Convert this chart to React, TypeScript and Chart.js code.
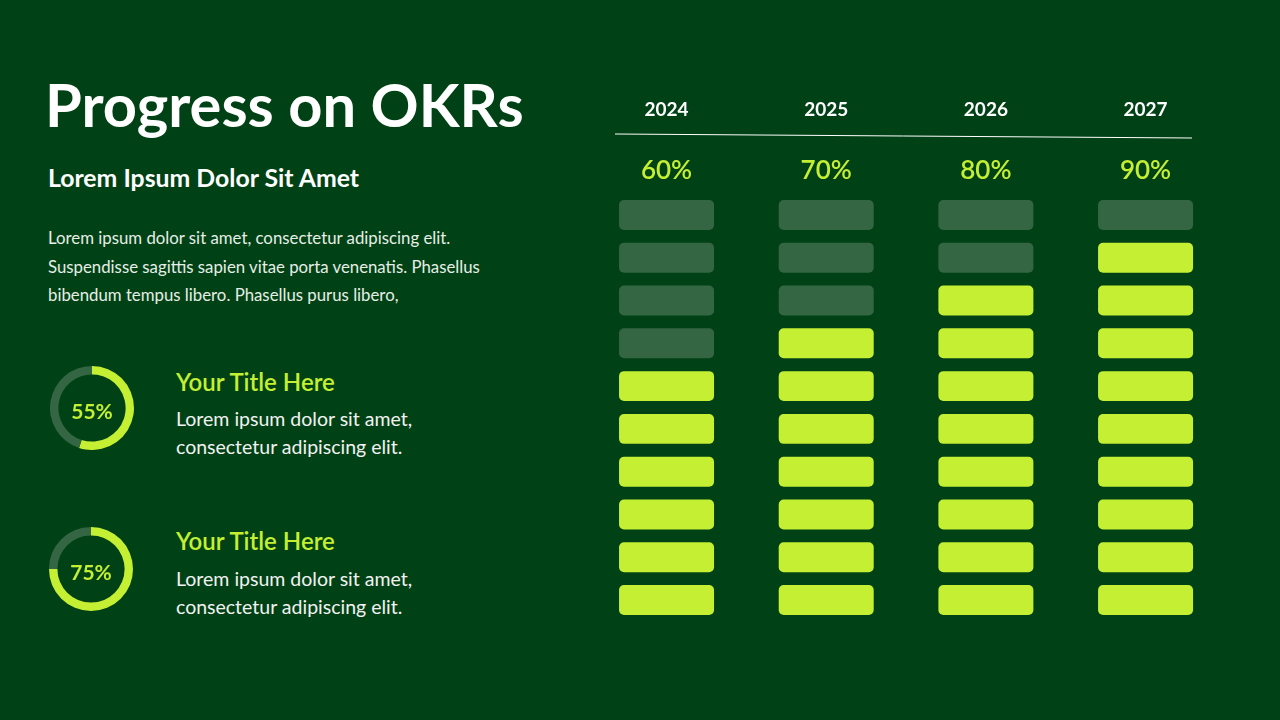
import React, { useEffect, useRef } from 'react';
import { Chart, registerables } from 'chart.js';
Chart.register(...registerables);

const years = ['2024', '2025', '2026', '2027'];
const progressPct = [60, 70, 80, 90];
const blocksPerColumn = 10;
const donutValues = [55, 75];
const itemTitles = ['Your Title Here', 'Your Title Here'];
const itemTexts = [
  ['Lorem ipsum dolor sit amet,', 'consectetur adipiscing elit.'],
  ['Lorem ipsum dolor sit amet,', 'consectetur adipiscing elit.'],
];

const BG = '#004215';
const LIME = '#c4ef33';
const DIM = '#346644';
const FONT = 'Lato, "Noto Sans", sans-serif';

function GridChart() {
  const ref = useRef<HTMLCanvasElement>(null);
  useEffect(() => {
    const rows = Array.from({ length: blocksPerColumn }, (_, r) => r);
    const headerPlugin = {
      id: 'header',
      afterDraw(chart: any) {
        const ctx = chart.ctx;
        const x = chart.scales.x;
        ctx.save();
        ctx.textAlign = 'center';
        ctx.textBaseline = 'middle';
        years.forEach((y, i) => {
          const px = x.getPixelForValue(i);
          ctx.fillStyle = '#ffffff';
          ctx.font = `bold 19px ${FONT}`;
          ctx.fillText(y, px, 50);
          ctx.fillStyle = LIME;
          ctx.font = `600 26px ${FONT}`;
          ctx.fillText(progressPct[i] + '%', px, 111);
        });
        ctx.strokeStyle = '#ffffff';
        ctx.lineWidth = 1;
        ctx.beginPath();
        ctx.moveTo(55, 74);
        ctx.lineTo(632, 78);
        ctx.stroke();
        ctx.restore();
      },
    };
    const chart = new Chart(ref.current!, {
      type: 'bar',
      data: {
        labels: years,
        datasets: rows.map((r) => ({
          label: 'block ' + (r + 1),
          data: years.map(() => [r + 0.15, r + 0.85]) as any,
          backgroundColor: progressPct.map((p) => (r < p / 10 ? LIME : DIM)),
          borderRadius: 5,
          borderSkipped: false,
          borderWidth: 0,
          categoryPercentage: 1,
          barPercentage: 0.595,
        })),
      },
      options: {
        animation: false,
        responsive: false,
        maintainAspectRatio: false,
        layout: { padding: { left: 26.7, right: 34.6, top: 133.6, bottom: 38.6 } },
        plugins: { legend: { display: false }, tooltip: { enabled: false } },
        scales: {
          x: { display: false, stacked: true },
          y: { display: false, stacked: false, min: 0, max: blocksPerColumn },
        },
      },
      plugins: [headerPlugin],
    });
    return () => chart.destroy();
  }, []);
  return (
    <canvas
      ref={ref}
      width={700}
      height={600}
      style={{ position: 'absolute', left: 560, top: 60, width: 700, height: 600 }}
    />
  );
}

function Donut({ value, left, top }: { value: number; left: number; top: number }) {
  const ref = useRef<HTMLCanvasElement>(null);
  useEffect(() => {
    const centerText = {
      id: 'centerText',
      afterDraw(chart: any) {
        const { ctx, chartArea } = chart;
        ctx.save();
        ctx.fillStyle = LIME;
        ctx.font = `bold 21px ${FONT}`;
        ctx.textAlign = 'center';
        ctx.textBaseline = 'middle';
        ctx.fillText(value + '%', (chartArea.left + chartArea.right) / 2, (chartArea.top + chartArea.bottom) / 2 + 4);
        ctx.restore();
      },
    };
    const chart = new Chart(ref.current!, {
      type: 'doughnut',
      data: {
        labels: ['Done', 'Remaining'],
        datasets: [
          {
            data: [value, 100 - value],
            backgroundColor: [LIME, DIM],
            borderWidth: 0,
          },
        ],
      },
      options: {
        animation: false,
        responsive: false,
        cutout: '80%',
        plugins: { legend: { display: false }, tooltip: { enabled: false } },
      },
      plugins: [centerText],
    });
    return () => chart.destroy();
  }, [value]);
  return (
    <canvas
      ref={ref}
      width={84}
      height={84}
      style={{ position: 'absolute', left, top, width: 84, height: 84 }}
    />
  );
}

export default function App() {
  useEffect(() => {
    document.body.style.margin = '0';
    document.body.style.background = BG;
  }, []);
  const abs = (l: number, t: number): React.CSSProperties => ({ position: 'absolute', left: l, top: t, whiteSpace: 'nowrap' });
  const donutPos = [
    { left: 50, top: 366, titleTop: 366, textTop: 405 },
    { left: 49, top: 527, titleTop: 525, textTop: 565 },
  ];
  return (
    <div style={{ position: 'relative', width: 1280, height: 720, background: BG, overflow: 'hidden', fontFamily: FONT, color: '#fff' }}>
      <div style={{ ...abs(45, 69), fontSize: 59.6, fontWeight: 700, lineHeight: '70px' }}>Progress on OKRs</div>
      <div style={{ ...abs(48, 163), fontSize: 24.8, fontWeight: 700, lineHeight: '30px' }}>Lorem Ipsum Dolor Sit Amet</div>
      <div style={{ ...abs(48, 224), fontSize: 16.8, lineHeight: '28.7px', color: '#e6eee6' }}>
        Lorem ipsum dolor sit amet, consectetur adipiscing elit.
        <br />
        Suspendisse sagittis sapien vitae porta venenatis. Phasellus
        <br />
        bibendum tempus libero. Phasellus purus libero,
      </div>
      {donutValues.map((v, i) => (
        <React.Fragment key={i}>
          <Donut value={v} left={donutPos[i].left} top={donutPos[i].top} />
          <div style={{ ...abs(176, donutPos[i].titleTop), fontSize: 24, fontWeight: 600, lineHeight: '32px', color: LIME }}>{itemTitles[i]}</div>
          <div style={{ ...abs(176, donutPos[i].textTop), fontSize: 19.5, lineHeight: '28px', color: '#f2f2f2' }}>
            {itemTexts[i][0]}
            <br />
            {itemTexts[i][1]}
          </div>
        </React.Fragment>
      ))}
      <GridChart />
    </div>
  );
}
